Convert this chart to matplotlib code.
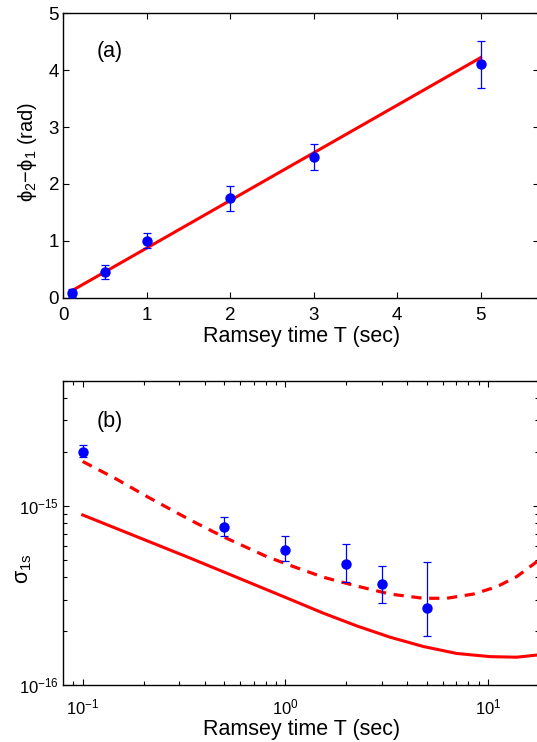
import numpy as np
import matplotlib
matplotlib.use('Agg')
import matplotlib.pyplot as plt
from matplotlib.ticker import LogLocator, NullFormatter

plt.rcParams['font.family'] = ['Liberation Sans', 'DejaVu Sans']
plt.rcParams['mathtext.fontset'] = 'custom'
plt.rcParams['mathtext.rm'] = 'Liberation Sans'
plt.rcParams['mathtext.it'] = 'Liberation Sans:italic'
plt.rcParams['mathtext.bf'] = 'Liberation Sans:bold'

# panel (a): phase difference vs Ramsey time
T_a = [0.1, 0.5, 1.0, 2.0, 3.0, 5.0]
phase = [0.08, 0.45, 1.0, 1.75, 2.47, 4.10]
phase_err = [0.07, 0.13, 0.13, 0.22, 0.23, 0.42]
fit_T = [0.1, 5.0]
fit_phase = [0.12, 4.22]

# panel (b): Allan deviation vs Ramsey time
T_b = [0.1, 0.5, 1.0, 2.0, 3.0, 5.0]
sigma = [2.01e-15, 7.6e-16, 5.68e-16, 4.72e-16, 3.68e-16, 2.69e-16]
sigma_lo = [1.88e-15, 6.8e-16, 4.95e-16, 3.76e-16, 2.87e-16, 1.88e-16]
sigma_hi = [2.19e-15, 8.7e-16, 6.77e-16, 6.15e-16, 4.64e-16, 4.87e-16]

# read-off points of the two model curves
dashed_T = [0.1, 0.147, 0.207, 0.341, 0.495, 0.811, 1.10, 1.54, 2.25, 3.29,
            4.81, 6.27, 8.5, 11.1, 13.9, 17.5]
dashed_sigma = [1.77e-15, 1.41e-15, 1.13e-15, 8.32e-16, 6.72e-16, 5.21e-16, 4.58e-16,
                4.00e-16, 3.57e-16, 3.22e-16, 3.05e-16, 3.05e-16, 3.22e-16, 3.54e-16,
                4.03e-16, 4.89e-16]
solid_T = [0.1, 0.341, 1.056, 1.54, 2.25, 3.29, 4.81, 7.03, 10.3, 13.9, 17.5]
solid_sigma = [8.9e-16, 5.10e-16, 3.01e-16, 2.52e-16, 2.14e-16, 1.85e-16, 1.64e-16,
               1.50e-16, 1.44e-16, 1.43e-16, 1.47e-16]

red = (1, 0, 0)
blue = (0, 0, 1)

fig = plt.figure(figsize=(5.37, 7.42), dpi=100)

def style_axes(ax, size, xpad):
    ax.tick_params(which='both', direction='in', top=True, right=True,
                   labelsize=size, width=0.8)
    ax.tick_params(axis='x', pad=xpad)
    ax.tick_params(axis='y', pad=3)
    ax.tick_params(which='major', length=4)
    ax.tick_params(which='minor', length=3)
    for sp in ax.spines.values():
        sp.set_linewidth(1.0)

#top panel
ax1 = fig.add_axes([0.1179, 0.5988, 0.8858, 0.3833])
ax1.plot(fit_T, fit_phase, color=red, lw=2.2, zorder=2)
ax1.errorbar(T_a, phase, yerr=phase_err, fmt='o', color=blue, ms=6.5,
             elinewidth=0.9, capsize=3, capthick=0.9, zorder=3)
ax1.set_xlim(0, 5.70)
ax1.set_ylim(0, 5)
ax1.set_xticks([0, 1, 2, 3, 4, 5])
ax1.set_yticks([0, 1, 2, 3, 4, 5])
ax1.set_xlabel("Ramsey time T (sec)", fontsize=15.5)
ax1.xaxis.set_label_coords(0.5, -0.0995)
ax1.set_ylabel(r"ϕ$_\mathregular{2}$−ϕ$_\mathregular{1}$ (rad)", fontsize=14.5)
ax1.yaxis.set_label_coords(-0.052, 0.514)
ax1.text(0.071, 0.867, "(a)", transform=ax1.transAxes, fontsize=15.5,
         ha='left', va='center')
style_axes(ax1, 13.5, 7)

#bottom panel
ax2 = fig.add_axes([0.1179, 0.0768, 0.8858, 0.4101])
ax2.plot(dashed_T, dashed_sigma, color=red, lw=2.3, dashes=(3.2, 2.4), zorder=2)
ax2.plot(solid_T, solid_sigma, color=red, lw=2.2, zorder=2)
yerr_b = [np.array(sigma) - np.array(sigma_lo), np.array(sigma_hi) - np.array(sigma)]
ax2.errorbar(T_b, sigma, yerr=yerr_b, fmt='o', color=blue, ms=6.5,
             elinewidth=0.9, capsize=3, capthick=0.9, zorder=3)
ax2.set_xscale('log')
ax2.set_yscale('log')
ax2.set_xlim(0.0802, 17.9)
ax2.set_ylim(1e-16, 5e-15)
ax2.xaxis.set_major_locator(LogLocator(base=10, numticks=10))
ax2.xaxis.set_minor_locator(LogLocator(base=10, subs=np.arange(2, 10), numticks=20))
ax2.xaxis.set_minor_formatter(NullFormatter())
ax2.yaxis.set_minor_formatter(NullFormatter())
ax2.set_xlabel("Ramsey time T (sec)", fontsize=15.5)
ax2.xaxis.set_label_coords(0.5, -0.111)
ax2.set_ylabel(r"σ$_\mathregular{1s}$", fontsize=15.5)
ax2.yaxis.set_label_coords(-0.062, 0.384)
ax2.text(0.071, 0.867, "(b)", transform=ax2.transAxes, fontsize=15.5,
         ha='left', va='center')
style_axes(ax2, 12, 9)

fig.savefig('out.png', dpi=100)
